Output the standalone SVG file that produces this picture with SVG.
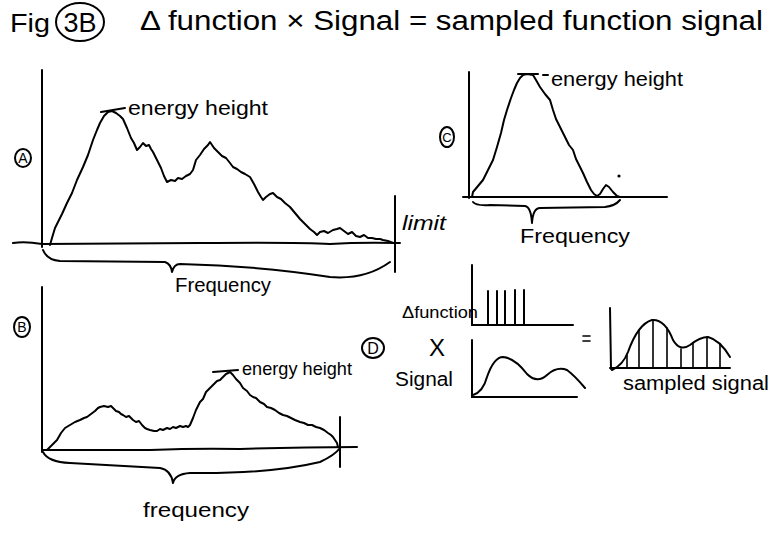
<svg xmlns="http://www.w3.org/2000/svg" width="772" height="535" viewBox="0 0 772 535">
<style>
  .ln{fill:none;stroke:#000;stroke-width:2;stroke-linecap:round;stroke-linejoin:round}
  .thin{fill:none;stroke:#000;stroke-width:1.6;stroke-linecap:round}
  .t{font-family:"Liberation Sans","DejaVu Sans",sans-serif;fill:#000}
  .lab{font-family:"Liberation Sans","DejaVu Sans",sans-serif;fill:#000;text-anchor:middle}
</style>
<rect width="772" height="535" fill="#fff"/>

<g id="title">
  <text class="t" x="10" y="32" font-size="26" textLength="40" lengthAdjust="spacingAndGlyphs">Fig</text>
  <ellipse class="ln" cx="80" cy="22" rx="24" ry="19"/>
  <text class="lab" x="80" y="32" font-size="27">3B</text>
  <text class="t" x="140" y="30" font-size="27" textLength="623" lengthAdjust="spacingAndGlyphs">Δ function × Signal = sampled function signal</text>
</g>

<g id="panel-a">
  <line class="ln" x1="42" y1="70" x2="42" y2="247"/>
  <path class="ln" d="M13,243 Q25,241 42,244 L200,243 Q300,242 330,244 Q360,242 400,243"/>
  <line class="ln" x1="395" y1="196" x2="395" y2="272"/>
  <polyline class="ln" points="50,245 52,238 55,228 58,222 62,214 67,203 72,193 77,180 83,167 88,155 93,140 97,130 100,123 104,116 108,112 112,111 116,113 120,116 123,119 127,128 131,138 134,143 137,150 140,147 143,143 146,146 149,145 151,149 153,152 157,160 161,168 164,176 167,182 171,180 175,181 178,178 182,179 186,176 190,174 193,170 196,160 200,155 204,149 208,145 210,142 214,148 218,152 222,156 226,158 230,163 233,167 237,169 241,172 245,174 250,177 254,184 258,192 261,197 263,200 266,197 270,194 273,193 277,197 281,199 285,203 290,207 295,213 300,219 305,224 310,229 314,232 317,235 320,232 324,231 328,233 333,230 337,229 340,228 344,231 348,234 352,232 356,236 360,237 364,235 368,238 372,238 376,239 380,239 383,240 388,241 393,243 397,243"/>
  <line class="ln" x1="101" y1="112" x2="125" y2="108"/>
  <text class="t" x="128" y="115" font-size="21" textLength="140" lengthAdjust="spacingAndGlyphs">energy height</text>
  <ellipse class="ln" cx="23" cy="158" rx="8" ry="9"/>
  <text class="lab" x="23" y="163" font-size="14">A</text>
  <path class="ln" d="M43,250 Q47,260 60,261 L165,262 Q171,264 172,272 Q174,264 180,264 Q260,266 330,277 Q365,280 390,262"/>
  <text class="t" x="175" y="292" font-size="21" textLength="96" lengthAdjust="spacingAndGlyphs">Frequency</text>
  <text class="t" x="402" y="230" font-size="20" font-style="italic" textLength="44" lengthAdjust="spacingAndGlyphs">limit</text>
</g>

<g id="panel-b">
  <line class="ln" x1="42" y1="287" x2="42" y2="452"/>
  <path class="ln" d="M42,450 L150,450 Q200,448 240,449 Q300,447 357,447"/>
  <line class="ln" x1="340" y1="417" x2="340" y2="467"/>
  <polyline class="ln" points="47,450 50,447 54,443 57,440 61,433 65,428 70,425 75,422 80,420 84,418 87,417 91,414 95,411 98,408 100,407 104,406 108,407 111,406 113,408 116,411 119,412 121,414 123,415 126,417 129,416 133,420 136,422 139,421 142,425 145,428 147,429 150,430 154,431 157,431 160,429 163,430 167,428 170,429 173,427 176,428 180,426 183,427 186,426 188,427 190,425 193,418 196,410 200,402 203,399 206,392 208,390 211,387 214,384 217,381 220,380 223,377 226,374 230,372 233,375 236,379 240,383 243,388 247,391 250,395 253,397 256,398 260,402 264,404 267,407 271,408 275,410 279,413 283,415 287,416 291,418 295,420 300,422 304,423 308,425 312,425 316,427 320,428 324,430 328,433 331,435 333,437 335,440 337,443 338,447"/>
  <line class="ln" x1="213" y1="372" x2="238" y2="370"/>
  <text class="t" x="242" y="375" font-size="19" textLength="110" lengthAdjust="spacingAndGlyphs">energy height</text>
  <ellipse class="ln" cx="373" cy="348" rx="11" ry="10"/>
  <text class="lab" x="373" y="354" font-size="16">D</text>
  <ellipse class="ln" cx="22" cy="327" rx="8" ry="10"/>
  <text class="lab" x="22" y="332" font-size="14">B</text>
  <path class="ln" d="M43,452 Q48,462 70,463 L160,468 Q171,470 173,483 Q175,474 190,473 Q270,474 320,462 Q335,455 340,448"/>
  <text class="t" x="143" y="517" font-size="21" textLength="106" lengthAdjust="spacingAndGlyphs">frequency</text>
</g>

<g id="panel-c">
  <line class="ln" x1="469" y1="72" x2="469" y2="198"/>
  <line class="ln" x1="463" y1="197" x2="667" y2="197"/>
  <polyline class="ln" points="472,197 473,192 478,186 483,180 488,170 493,160 497,147 501,133 504,120 507,110 511,98 514,90 517,83 520,78 523,75 527,74 533,75 536,80 540,87 545,94 550,100 553,110 556,119 560,127 565,137 569,145 573,150 576,159 580,167 583,173 587,182 591,190 594,194 597,196 600,194 603,189 606,185 609,187 613,192 617,196 620,197"/>
  <line class="ln" x1="518" y1="74" x2="538" y2="74"/>
  <line class="ln" x1="543" y1="75" x2="548" y2="75"/>
  <text class="t" x="551" y="86" font-size="21" textLength="132" lengthAdjust="spacingAndGlyphs">energy height</text>
  <circle cx="619" cy="176" r="1.6" fill="#000"/>
  <ellipse class="ln" cx="447" cy="137" rx="7" ry="10"/>
  <text class="lab" x="447" y="142" font-size="13">C</text>
  <path class="ln" d="M473,202 Q476,206 490,205 L525,206 Q531,207 532,223 Q533,208 540,208 L605,207 Q615,206 620,200"/>
  <text class="t" x="520" y="243" font-size="21" textLength="110" lengthAdjust="spacingAndGlyphs">Frequency</text>
</g>

<g id="panel-d">
  <text class="t" x="402" y="318" font-size="17" textLength="76" lengthAdjust="spacingAndGlyphs">Δfunction</text>
  <line class="ln" x1="472" y1="265" x2="472" y2="325"/>
  <line class="ln" x1="472" y1="325" x2="573" y2="325"/>
  <g class="ln">
    <line x1="488" y1="325" x2="488" y2="291"/>
    <line x1="497" y1="325" x2="497" y2="291"/>
    <line x1="505" y1="325" x2="505" y2="291"/>
    <line x1="515" y1="325" x2="515" y2="290"/>
    <line x1="524" y1="325" x2="524" y2="290"/>
  </g>
  <text class="lab" x="437" y="356" font-size="24">X</text>
  <text class="t" x="395" y="386" font-size="20" textLength="58" lengthAdjust="spacingAndGlyphs">Signal</text>
  <line class="ln" x1="472" y1="340" x2="472" y2="397"/>
  <line class="ln" x1="472" y1="397" x2="577" y2="397"/>
  <path class="ln" d="M473,395 Q483,392 487,377 Q494,357 503,357 Q515,358 527,374 Q537,384 547,375 Q557,366 567,370 Q575,376 585,388"/>
  <line class="thin" x1="583" y1="336" x2="590" y2="336"/>
  <line class="thin" x1="583" y1="341" x2="590" y2="341"/>
  <line class="ln" x1="610" y1="308" x2="611" y2="369"/>
  <line class="ln" x1="610" y1="368" x2="730" y2="368"/>
  <path class="ln" d="M612,370 Q623,365 628,352 Q638,324 652,320 Q665,319 673,340 Q680,352 690,345 Q700,337 708,337 Q720,340 730,357"/>
  <g class="thin">
    <line x1="627" y1="368" x2="627" y2="355"/>
    <line x1="639" y1="368" x2="639" y2="330"/>
    <line x1="653" y1="368" x2="653" y2="320"/>
    <line x1="667" y1="368" x2="667" y2="328"/>
    <line x1="681" y1="368" x2="681" y2="349"/>
    <line x1="693" y1="368" x2="693" y2="343"/>
    <line x1="707" y1="368" x2="707" y2="337"/>
    <line x1="720" y1="368" x2="720" y2="344"/>
  </g>
  <text class="t" x="623" y="390" font-size="20" textLength="146" lengthAdjust="spacingAndGlyphs">sampled signal</text>
</g>
</svg>
